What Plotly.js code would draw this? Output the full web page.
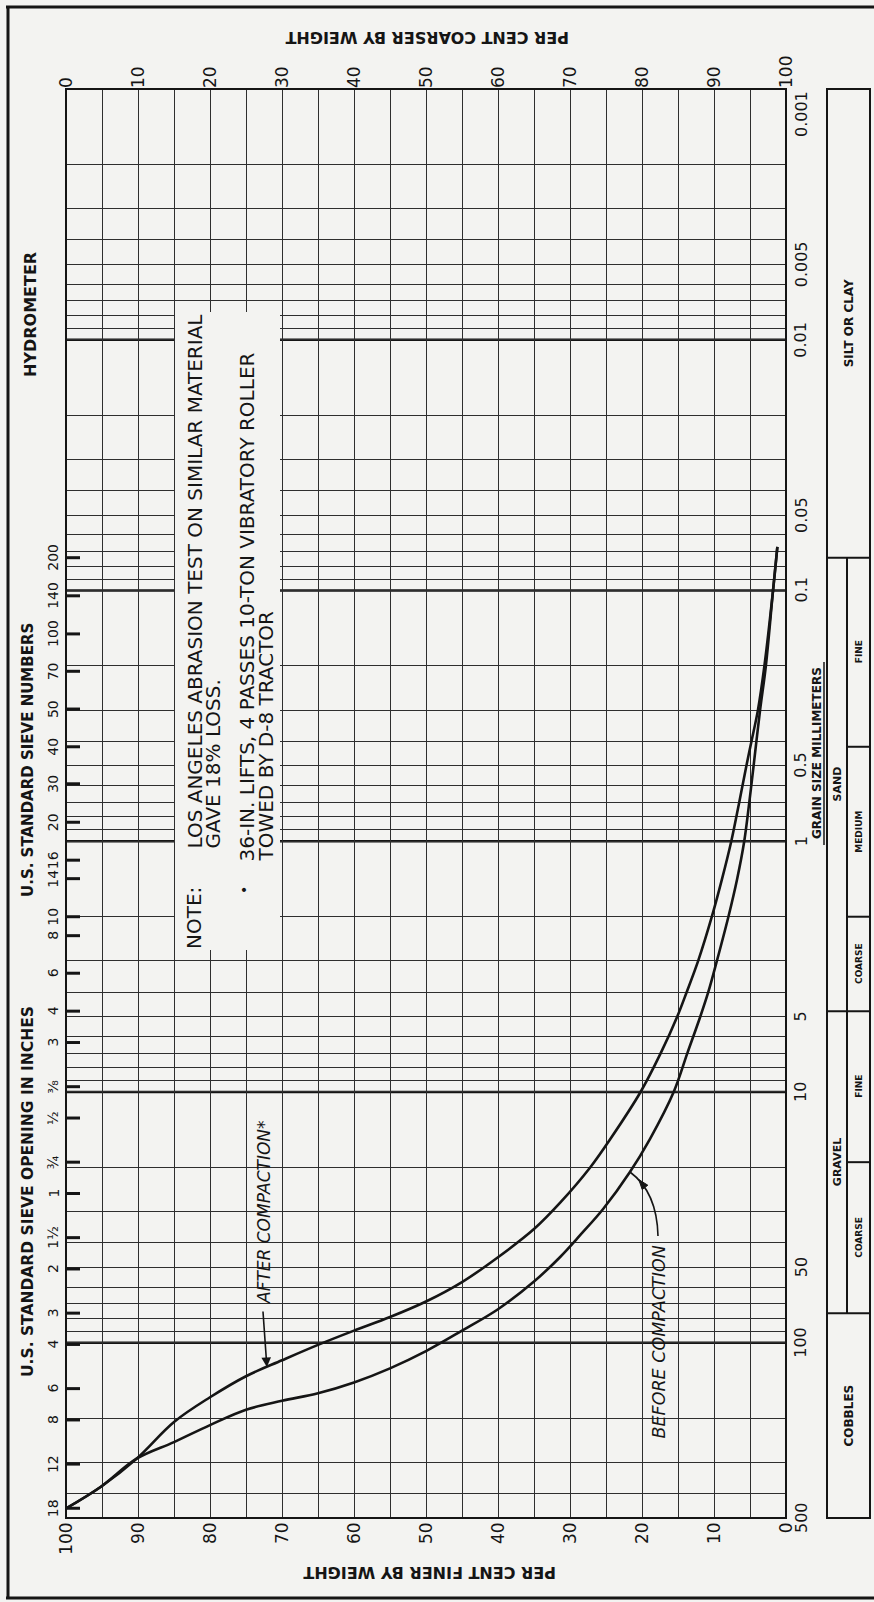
<!DOCTYPE html>
<html>
<head>
<meta charset="utf-8">
<script src="https://cdn.plot.ly/plotly-3.0.1.min.js"></script>
<style>
html,body{margin:0;padding:0;background:#f3f3f1;}
#chart{width:874px;height:1602px;}
</style>
</head>
<body>
<div id="chart"></div>
<script>
// ---------------- DATA ----------------
// grain size in millimetres vs. per cent finer by weight
const afterSize  = [458, 376, 290, 207, 165, 136, 117.5, 102, 89.5, 79, 68.5, 57.3, 45.6, 35.2, 27.5, 20, 15.4, 10, 7, 5, 4, 3, 2, 1.42, 1, 0.7, 0.5, 0.4, 0.3, 0.2, 0.1, 0.067];
const afterFiner = [100, 95.2, 90.2, 85.0, 80.0, 75.0, 70.0, 65.0, 60.0, 55.0, 50.0, 45.0, 40.0, 35.0, 31.3, 27.2, 24.4, 20.2, 17.4, 15.1, 13.8, 12.2, 10.3, 8.9, 7.6, 6.5, 5.5, 4.8, 3.9, 3.0, 1.8, 1.2];

const beforeSize  = [458, 376, 290, 249, 213, 185, 170.5, 159, 144, 126.5, 108, 89.5, 73.5, 57, 45.6, 37, 29.3, 20.9, 15.4, 10, 7, 5, 4, 3, 2, 1.42, 1, 0.7, 0.5, 0.3, 0.2, 0.1, 0.067];
const beforeFiner = [100, 95.2, 90.2, 85.0, 80.0, 75.0, 70.0, 65.0, 60.0, 55.0, 50.0, 45.0, 40.0, 35.0, 31.4, 28.5, 25.4, 21.7, 18.9, 15.6, 13.7, 11.9, 10.8, 9.6, 8.0, 6.8, 5.8, 5.1, 4.5, 3.6, 2.8, 1.8, 1.2];

// axis labels
const finerTicks   = [100, 90, 80, 70, 60, 50, 40, 30, 20, 10, 0];
const coarserTicks = [0, 10, 20, 30, 40, 50, 60, 70, 80, 90, 100];
const sizeLabelVals = [0.001, 0.005, 0.01, 0.05, 0.1, 0.5, 1, 5, 10, 50, 100, 500];
const sizeLabelText = ['0.001', '0.005', '0.01', '0.05', '0.1', '0.5', '1', '5', '10', '50', '100', '500'];
const decadeLines = [0.01, 0.1, 1, 10, 100];

// US standard sieves
const sieveInchText  = ['18', '12', '8', '6', '4', '3', '2', '1½', '1', '¾', '½', '⅜'];
const sieveInchSizes = [457.2, 304.8, 203.2, 152.4, 101.6, 76.2, 50.8, 38.1, 25.4, 19.05, 12.7, 9.525];
const sieveNoText  = ['3', '4', '6', '8', '10', '14', '16', '20', '30', '40', '50', '70', '100', '140', '200'];
const sieveNoSizes = [6.35, 4.76, 3.36, 2.38, 2.0, 1.41, 1.19, 0.84, 0.59, 0.42, 0.297, 0.21, 0.149, 0.105, 0.074];

// soil classification (mm boundaries)
const classBounds = {cobbles: [76.2, 500], gravel: [4.76, 76.2], sand: [0.074, 4.76], silt: [0.001, 0.074]};
const subBounds = {
  gravelCoarse: [19.05, 76.2], gravelFine: [4.76, 19.05],
  sandCoarse: [2.0, 4.76], sandMedium: [0.42, 2.0], sandFine: [0.074, 0.42]
};

// ---------------- LAYOUT HELPERS ----------------
const L = 66, R = 786, T = 89, B = 1518;
const W = R - L, H = B - T;
const px = x => (x - L) / W;
const py = y => (B - y) / H;
const lg = v => Math.log10(v);
const gmid = (a, b) => (lg(a) + lg(b)) / 2;

const INK = '#151515';
const BG = '#f3f3f1';
const GRID = '#2e2e2e';

// grid values on the log axis: 1..9 x each decade up to 500
const gridSizes = [];
for (let e = -3; e <= 2; e++) {
  for (let k = 1; k <= 9; k++) {
    const v = +(k * Math.pow(10, e)).toPrecision(3);
    if (v <= 500) gridSizes.push(v);
  }
}

// ---------------- TRACES ----------------
const traces = [
  {x: afterFiner, y: afterSize, mode: 'lines', type: 'scatter', hoverinfo: 'skip',
   line: {color: INK, width: 2.6, shape: 'spline', smoothing: 1}},
  {x: beforeFiner, y: beforeSize, mode: 'lines', type: 'scatter', hoverinfo: 'skip',
   line: {color: INK, width: 2.6, shape: 'spline', smoothing: 1}},
  {x: [0], y: [1], xaxis: 'x2', yaxis: 'y', mode: 'markers', marker: {opacity: 0}, hoverinfo: 'skip'}
];

// ---------------- SHAPES ----------------
const shapes = [];
// thicker decade lines
decadeLines.forEach(d => shapes.push({type: 'line', xref: 'x', yref: 'y', x0: 100, x1: 0, y0: d, y1: d,
  line: {color: INK, width: 2.6}, layer: 'below'}));
// note box (blanks the grid)
shapes.push({type: 'rect', xref: 'paper', yref: 'paper', x0: px(175), x1: px(280), y0: py(950), y1: py(312),
  fillcolor: BG, line: {width: 0}, layer: 'above'});
// plot frame
shapes.push({type: 'rect', xref: 'paper', yref: 'paper', x0: 0, x1: 1, y0: 0, y1: 1,
  line: {color: INK, width: 2}, layer: 'above'});
// sieve ticks on left edge
sieveInchSizes.concat(sieveNoSizes).forEach(s => shapes.push({type: 'line', xref: 'paper', yref: 'y',
  x0: 0, x1: px(80), y0: s, y1: s, line: {color: INK, width: 3}, layer: 'above'}));
// page border
shapes.push({type: 'line', xref: 'paper', yref: 'paper', x0: px(6), x1: px(874), y0: py(7), y1: py(7), line: {color: INK, width: 3}});
shapes.push({type: 'line', xref: 'paper', yref: 'paper', x0: px(8), x1: px(8), y0: py(6), y1: py(1599), line: {color: INK, width: 3}});
shapes.push({type: 'line', xref: 'paper', yref: 'paper', x0: px(6), x1: px(874), y0: py(1598), y1: py(1598), line: {color: INK, width: 3}});
// classification box
const cx0 = px(827), cxm = px(847), cx1 = px(870);
shapes.push({type: 'rect', xref: 'paper', yref: 'paper', x0: cx0, x1: cx1, y0: 0, y1: 1, line: {color: INK, width: 2}});
[classBounds.silt[1], classBounds.sand[1], classBounds.gravel[1]].forEach(v =>
  shapes.push({type: 'line', xref: 'paper', yref: 'y', x0: cx0, x1: cx1, y0: v, y1: v, line: {color: INK, width: 2}}));
shapes.push({type: 'line', xref: 'paper', yref: 'y', x0: cxm, x1: cxm, y0: classBounds.sand[0], y1: classBounds.gravel[1], line: {color: INK, width: 2}});
[subBounds.sandFine[1], subBounds.sandMedium[1], subBounds.gravelFine[1]].forEach(v =>
  shapes.push({type: 'line', xref: 'paper', yref: 'y', x0: cxm, x1: cx1, y0: v, y1: v, line: {color: INK, width: 2}}));
// underline of GRAIN SIZE MILLIMETERS
shapes.push({type: 'line', xref: 'paper', yref: 'paper', x0: px(824), x1: px(824), y0: py(845), y1: py(662), line: {color: INK, width: 1.5}});
// curved leader for BEFORE COMPACTION
const P = (x, y) => px(x).toFixed(5) + ',' + py(y).toFixed(5);
shapes.push({type: 'path', xref: 'paper', yref: 'paper', path: 'M' + P(658, 1236) + ' Q' + P(657, 1192) + ' ' + P(630, 1172),
  line: {color: INK, width: 1.6}, layer: 'above'});
shapes.push({type: 'path', xref: 'paper', yref: 'paper', path: 'M' + P(638.8, 1179.6) + ' L' + P(647.8, 1185.2) + ' L' + P(642.2, 1189.6) + ' Z',
  fillcolor: INK, line: {color: INK, width: 1}, layer: 'above'});

// ---------------- ANNOTATIONS ----------------
const ann = [];
const F = 'DejaVu Sans';
function txt(text, x, y, o) {
  return Object.assign({text: text, xref: 'paper', yref: 'paper', x: px(x), y: py(y), showarrow: false,
    textangle: -90, xanchor: 'center', yanchor: 'middle', font: {family: F, size: 14, color: INK}}, o || {});
}
// axis titles (upside down)
ann.push(txt('<b>PER CENT COARSER BY WEIGHT</b>', 427, 37, {textangle: 180, font: {family: F, size: 16, color: INK}}));
ann.push(txt('<b>PER CENT FINER BY WEIGHT</b>', 430, 1573, {textangle: 180, font: {family: F, size: 16, color: INK}}));
// left headers
ann.push(txt('<b>HYDROMETER</b>', 30, 315, {font: {family: F, size: 16, color: INK}}));
ann.push(txt('<b>U.S. STANDARD SIEVE NUMBERS</b>', 28, 760, {font: {family: F, size: 15, color: INK}}));
ann.push(txt('<b>U.S. STANDARD SIEVE OPENING IN INCHES</b>', 28, 1192, {font: {family: F, size: 15.5, color: INK}}));
// sieve labels
sieveInchSizes.concat(sieveNoSizes).forEach((s, i) => {
  const t = sieveInchText.concat(sieveNoText)[i];
  ann.push({text: t, xref: 'paper', yref: 'y', x: px(53), y: lg(s), showarrow: false, textangle: -90,
    xanchor: 'center', yanchor: 'middle', font: {family: F, size: 14, color: INK}});
});
// grain size labels
sizeLabelVals.forEach((v, i) => {
  ann.push({text: sizeLabelText[i], xref: 'paper', yref: 'y', x: px(801), y: lg(v), showarrow: false, textangle: -90,
    xanchor: 'center', yanchor: i === 0 ? 'top' : 'middle', font: {family: F, size: 16, color: INK}});
});
ann.push(txt('<b>GRAIN SIZE MILLIMETERS</b>', 817, 753, {font: {family: F, size: 12, color: INK}}));
// classification labels
function cls(text, x, lo, hi, size) {
  ann.push({text: '<b>' + text + '</b>', xref: 'paper', yref: 'y', x: px(x), y: gmid(lo, hi), showarrow: false,
    textangle: -90, xanchor: 'center', yanchor: 'middle', font: {family: F, size: size, color: INK}});
}
cls('SILT OR CLAY', 849, classBounds.silt[0], classBounds.silt[1], 12);
cls('SAND', 837, classBounds.sand[0], classBounds.sand[1], 11);
cls('GRAVEL', 837, classBounds.gravel[0], classBounds.gravel[1], 11);
cls('COBBLES', 849, classBounds.cobbles[0], classBounds.cobbles[1], 12);
cls('FINE', 859, subBounds.sandFine[0], subBounds.sandFine[1], 9);
cls('MEDIUM', 859, subBounds.sandMedium[0], subBounds.sandMedium[1], 9);
cls('COARSE', 859, subBounds.sandCoarse[0], subBounds.sandCoarse[1], 9);
cls('FINE', 859, subBounds.gravelFine[0], subBounds.gravelFine[1], 9);
cls('COARSE', 859, subBounds.gravelCoarse[0], subBounds.gravelCoarse[1], 9);
// note
const NF = {family: F, size: 20, color: INK};
ann.push(txt('NOTE:', 194, 951, {yanchor: 'bottom', font: NF}));
ann.push(txt('LOS ANGELES ABRASION TEST ON SIMILAR MATERIAL', 194, 851, {yanchor: 'bottom', font: NF}));
ann.push(txt('GAVE 18% LOSS.', 212, 851, {yanchor: 'bottom', font: NF}));
ann.push(txt('•', 244, 890, {font: {family: F, size: 14, color: INK}}));
ann.push(txt('36-IN. LIFTS, 4 PASSES 10-TON VIBRATORY ROLLER', 246, 864, {yanchor: 'bottom', font: NF}));
ann.push(txt('TOWED BY D-8 TRACTOR', 265, 864, {yanchor: 'bottom', font: NF}));
// curve labels
ann.push(txt('<i>AFTER COMPACTION*</i>', 264, 1306, {yanchor: 'bottom', font: {family: F, size: 17, color: INK}}));
ann.push(txt('<i>BEFORE COMPACTION</i>', 658, 1441, {yanchor: 'bottom', font: {family: F, size: 17.5, color: INK}}));
// arrow for AFTER COMPACTION
ann.push({text: '', xref: 'x', yref: 'y', x: 72.1, y: lg(125), ax: -4, ay: -57, showarrow: true,
  arrowhead: 2, arrowsize: 1.2, arrowwidth: 1.6, arrowcolor: INK, standoff: 0});

// ---------------- LAYOUT ----------------
const layout = {
  width: 874, height: 1602,
  margin: {l: L, r: 874 - R, t: T, b: 1602 - B, pad: 0},
  paper_bgcolor: BG, plot_bgcolor: 'rgba(0,0,0,0)',
  showlegend: false,
  font: {family: F, color: INK},
  xaxis: {
    range: [100, 0], tickmode: 'array', tickvals: finerTicks, ticktext: finerTicks.map(String),
    tickangle: -90, tickfont: {family: F, size: 17, color: INK}, ticks: '',
    showgrid: true, gridcolor: GRID, gridwidth: 1,
    minor: {tickmode: 'linear', tick0: 0, dtick: 5, showgrid: true, gridcolor: GRID, gridwidth: 1, ticks: ''},
    zeroline: false, showline: false, fixedrange: true
  },
  xaxis2: {
    overlaying: 'x', side: 'top', anchor: 'y', range: [0, 100], tickmode: 'array',
    tickvals: coarserTicks, ticktext: coarserTicks.map(String), tickangle: -90,
    tickfont: {family: F, size: 17, color: INK}, ticks: '', showgrid: false, zeroline: false, showline: false
  },
  yaxis: {
    type: 'log', range: [lg(500), lg(0.001)], tickmode: 'array', tickvals: gridSizes,
    showticklabels: false, ticks: '', showgrid: true, gridcolor: GRID, gridwidth: 1,
    zeroline: false, showline: false, fixedrange: true
  },
  shapes: shapes,
  annotations: ann
};

Plotly.newPlot('chart', traces, layout, {staticPlot: true, displayModeBar: false});
</script>
</body>
</html>
